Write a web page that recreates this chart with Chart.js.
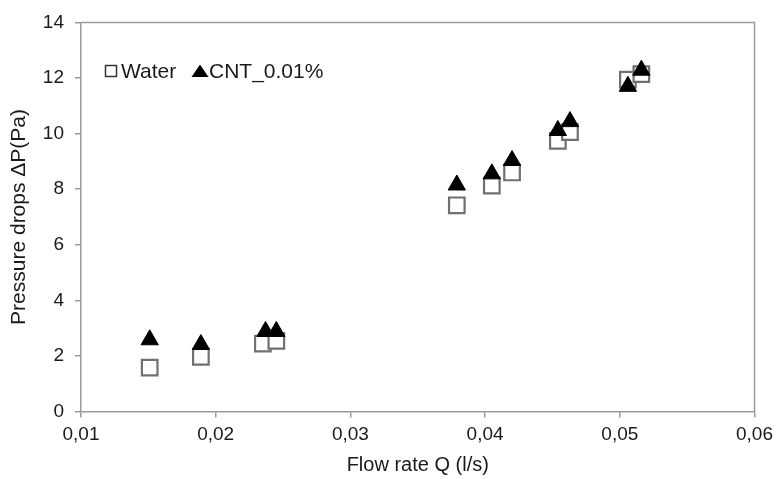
<!DOCTYPE html>
<html>
<head>
<meta charset="utf-8">
<script src="https://cdn.jsdelivr.net/npm/chart.js@4/dist/chart.umd.min.js"></script>
<style>
  html, body { margin: 0; padding: 0; background: #ffffff; }
  #wrap { width: 779px; height: 479px; position: relative; }
</style>
</head>
<body>
<div id="wrap"><canvas id="chart" width="779" height="479"></canvas></div>
<script>
// Flow rate (l/s) and pressure drop (Pa) for the two fluids
const waterFlow = [0.0151, 0.0189, 0.0235, 0.0245, 0.0379, 0.0405, 0.0420, 0.0454, 0.0463, 0.0506, 0.0516];
const waterDrop = [1.58, 1.97, 2.44, 2.54, 7.42, 8.13, 8.60, 9.74, 10.05, 11.94, 12.14];
const cntFlow = [0.0151, 0.0189, 0.0237, 0.0245, 0.0379, 0.0405, 0.0420, 0.0454, 0.0463, 0.0506, 0.0516];
const cntDrop = [2.58, 2.41, 2.88, 2.88, 8.15, 8.55, 9.03, 10.11, 10.43, 11.70, 12.28];

const seriesNames = ['Water', 'CNT_0.01%'];
const xTicks = [0.01, 0.02, 0.03, 0.04, 0.05, 0.06];
const yTicks = [0, 2, 4, 6, 8, 10, 12, 14];

const FONT = '"Liberation Sans", Arial, sans-serif';
const TEXT = '#1a1a1a';
const AXIS = '#9a9a9a';

function pairs(xs, ys) { return xs.map((x, i) => ({ x: x, y: ys[i] })); }

// Box around the plot area (top and right edges)
const frame = {
  id: 'frame',
  afterDatasetsDraw(chart) {
    const { ctx, chartArea: a } = chart;
    ctx.save();
    ctx.strokeStyle = AXIS;
    ctx.lineWidth = 1.5;
    ctx.beginPath();
    ctx.moveTo(a.left, a.top);
    ctx.lineTo(a.right, a.top);
    ctx.lineTo(a.right, a.bottom);
    ctx.stroke();
    ctx.restore();
  }
};

// Legend drawn inside the plot area, upper left
const insideLegend = {
  id: 'insideLegend',
  afterDraw(chart) {
    const { ctx } = chart;
    ctx.save();
    ctx.font = '21px ' + FONT;
    ctx.textBaseline = 'alphabetic';
    // square sample
    ctx.fillStyle = '#ffffff';
    ctx.fillRect(105.5, 65.5, 11, 11);
    ctx.strokeStyle = '#333333';
    ctx.lineWidth = 1.5;
    ctx.strokeRect(105.5, 65.5, 11, 11);
    ctx.fillStyle = TEXT;
    ctx.fillText(seriesNames[0], 121, 78);
    // triangle sample
    ctx.fillStyle = '#000000';
    ctx.beginPath();
    ctx.moveTo(200, 64.5);
    ctx.lineTo(208.5, 77);
    ctx.lineTo(191.5, 77);
    ctx.closePath();
    ctx.fill();
    ctx.fillStyle = TEXT;
    ctx.fillText(seriesNames[1], 209, 78);
    ctx.restore();
  }
};

new Chart(document.getElementById('chart'), {
  type: 'scatter',
  data: {
    datasets: [
      {
        label: seriesNames[1],
        data: pairs(cntFlow, cntDrop),
        pointStyle: 'triangle',
        pointRadius: 10,
        pointHoverRadius: 10,
        backgroundColor: '#000000',
        borderColor: '#000000',
        borderWidth: 1,
        order: 0
      },
      {
        label: seriesNames[0],
        data: pairs(waterFlow, waterDrop),
        pointStyle: 'rect',
        pointRadius: 11,
        pointHoverRadius: 11,
        backgroundColor: '#ffffff',
        borderColor: '#707070',
        borderWidth: 2.2,
        order: 1
      }
    ]
  },
  options: {
    responsive: false,
    animation: false,
    events: [],
    layout: { padding: { left: 0, right: 23, top: 15, bottom: 0 } },
    plugins: { legend: { display: false }, tooltip: { enabled: false } },
    scales: {
      x: {
        type: 'linear',
        min: xTicks[0],
        max: xTicks[xTicks.length - 1],
        afterBuildTicks(scale) { scale.ticks = xTicks.map(v => ({ value: v })); },
        afterFit(scale) { scale.height = 67.5; },
        grid: { drawOnChartArea: false, drawTicks: true, tickLength: 6, color: AXIS, lineWidth: 1.5 },
        border: { color: AXIS, width: 1.5 },
        ticks: {
          padding: 6,
          color: TEXT,
          font: { family: FONT, size: 19 },
          callback: v => v.toFixed(2).replace('.', ',')
        },
        title: {
          display: true,
          text: 'Flow rate Q (l/s)',
          color: TEXT,
          font: { family: FONT, size: 20 },
          padding: { top: 2, bottom: 2 }
        }
      },
      y: {
        type: 'linear',
        min: yTicks[0],
        max: yTicks[yTicks.length - 1],
        afterBuildTicks(scale) { scale.ticks = yTicks.map(v => ({ value: v })); },
        afterFit(scale) { scale.width = 81; },
        grid: { drawOnChartArea: false, drawTicks: true, tickLength: 6, color: AXIS, lineWidth: 1.5 },
        border: { color: AXIS, width: 1.5 },
        ticks: {
          padding: 11,
          color: TEXT,
          font: { family: FONT, size: 19 },
          callback: v => String(v)
        },
        title: {
          display: true,
          text: 'Pressure drops ΔP(Pa)',
          color: TEXT,
          font: { family: FONT, size: 21 },
          padding: { top: 7, bottom: 0 }
        }
      }
    }
  },
  plugins: [frame, insideLegend]
});
</script>
</body>
</html>
